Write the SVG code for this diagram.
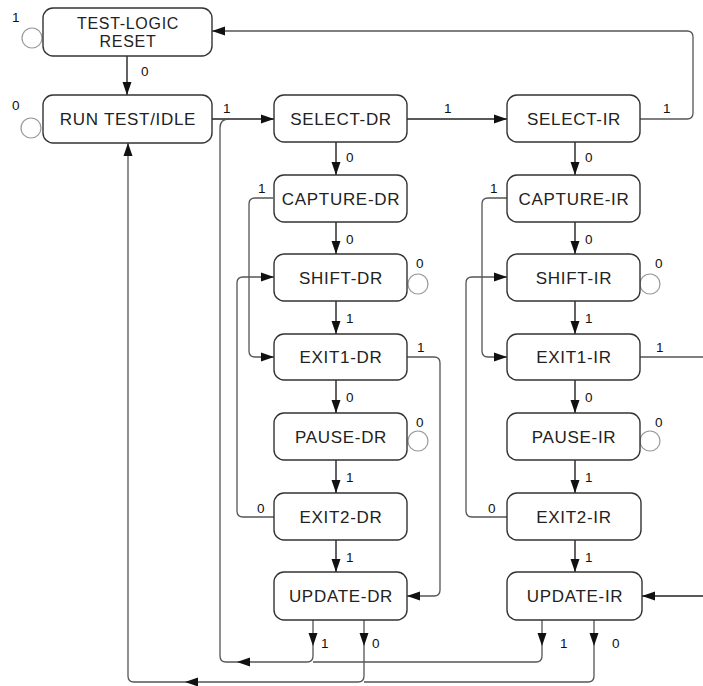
<svg xmlns="http://www.w3.org/2000/svg" width="703" height="686" viewBox="0 0 703 686">
<style>
.box{fill:#fff;stroke:#333;stroke-width:1.4}
.nt{font-family:"Liberation Sans",Arial,sans-serif;font-size:17px;letter-spacing:0.7px;fill:#222;text-anchor:middle}
.nt2{font-size:16px}
.lb{font-family:"Liberation Sans",Arial,sans-serif;font-size:13.5px;fill:#111}
.ln{fill:none;stroke:#222;stroke-width:1.4}
.lg{fill:none;stroke:#555;stroke-width:1.3}
.loop{fill:none;stroke:#999;stroke-width:1.2}
.ah{fill:#111}
</style>
<defs>
<path id="ah" class="ah" d="M0,0 L-13,-4.5 L-13,4.5 Z"/>
</defs>
<g id="connectors">
<path class="ln" d="M127,56 V95"/>
<path class="ln" d="M212,119 H274"/>
<path class="ln" d="M407,119 H507"/>
<path class="lg" d="M640,119 H687 Q693,119 693,113 V37 Q693,31 687,31 H212"/>
<path class="ln" d="M336,142 V175 M336,222 V254 M336,301 V334 M336,380 V413 M336,460 V493 M336,540 V572"/>
<path class="ln" d="M575,142 V175 M575,222 V254 M575,301 V334 M575,380 V413 M575,460 V493 M575,540 V572"/>
<path class="lg" d="M273,198 H255 Q249,198 249,204 V351 Q249,357 255,357 H274"/>
<path class="lg" d="M275,517 H243 Q237,517 237,511 V283 Q237,277 243,277 H274"/>
<path class="lg" d="M407,357 H434 Q440,357 440,363 V590 Q440,596 434,596 H407"/>
<path class="lg" d="M507,198 H488 Q482,198 482,204 V351 Q482,357 488,357 H507"/>
<path class="lg" d="M507,517 H472 Q466,517 466,511 V283 Q466,277 472,277 H507"/>
<path class="lg" d="M640,357 H703"/>
<path class="ln" d="M703,596 H642"/>
<path class="lg" d="M313,620 V656 Q313,662 307,662 H226 Q220,662 220,656 V128 Q220,119 229,119"/>
<path class="lg" d="M542,620 V656 Q542,662 536,662 H313"/>
<path class="lg" d="M364,620 V676 Q364,682 358,682 H134 Q128,682 128,676 V143"/>
<path class="lg" d="M594,620 V676 Q594,682 588,682 H364"/>
<use href="#ah" transform="translate(127,95) rotate(90)"/>
<use href="#ah" transform="translate(274,119)"/>
<use href="#ah" transform="translate(507,119)"/>
<use href="#ah" transform="translate(212,31) rotate(180)"/>
<use href="#ah" transform="translate(336,175) rotate(90)"/>
<use href="#ah" transform="translate(336,254) rotate(90)"/>
<use href="#ah" transform="translate(336,334) rotate(90)"/>
<use href="#ah" transform="translate(336,413) rotate(90)"/>
<use href="#ah" transform="translate(336,493) rotate(90)"/>
<use href="#ah" transform="translate(336,572) rotate(90)"/>
<use href="#ah" transform="translate(575,175) rotate(90)"/>
<use href="#ah" transform="translate(575,254) rotate(90)"/>
<use href="#ah" transform="translate(575,334) rotate(90)"/>
<use href="#ah" transform="translate(575,413) rotate(90)"/>
<use href="#ah" transform="translate(575,493) rotate(90)"/>
<use href="#ah" transform="translate(575,572) rotate(90)"/>
<use href="#ah" transform="translate(274,357)"/>
<use href="#ah" transform="translate(274,277)"/>
<use href="#ah" transform="translate(407,596) rotate(180)"/>
<use href="#ah" transform="translate(507,357)"/>
<use href="#ah" transform="translate(507,277)"/>
<use href="#ah" transform="translate(642,596) rotate(180)"/>
<use href="#ah" transform="translate(313,646) rotate(90)"/>
<use href="#ah" transform="translate(364,646) rotate(90)"/>
<use href="#ah" transform="translate(542,646) rotate(90)"/>
<use href="#ah" transform="translate(594,646) rotate(90)"/>
<use href="#ah" transform="translate(237,662) rotate(180)"/>
<use href="#ah" transform="translate(185,682) rotate(180)"/>
<use href="#ah" transform="translate(128,143) rotate(-90)"/>
<circle class="loop" cx="32" cy="38" r="10"/>
<circle class="loop" cx="31" cy="128" r="10"/>
<circle class="loop" cx="418" cy="284" r="10"/>
<circle class="loop" cx="418" cy="441" r="10"/>
<circle class="loop" cx="650" cy="284" r="10"/>
<circle class="loop" cx="650" cy="441" r="10"/>
<text class="lb" x="12" y="22">1</text>
<text class="lb" x="141" y="76">0</text>
<text class="lb" x="12" y="110">0</text>
<text class="lb" x="223" y="113">1</text>
<text class="lb" x="444" y="113">1</text>
<text class="lb" x="663" y="113">1</text>
<text class="lb" x="258" y="193">1</text>
<text class="lb" x="490" y="193">1</text>
<text class="lb" x="416" y="268">0</text>
<text class="lb" x="655" y="268">0</text>
<text class="lb" x="417" y="352">1</text>
<text class="lb" x="656" y="352">1</text>
<text class="lb" x="416" y="427">0</text>
<text class="lb" x="655" y="427">0</text>
<text class="lb" x="257" y="513">0</text>
<text class="lb" x="488" y="513">0</text>
<text class="lb" x="346" y="162">0</text>
<text class="lb" x="346" y="244">0</text>
<text class="lb" x="346" y="323">1</text>
<text class="lb" x="346" y="402">0</text>
<text class="lb" x="346" y="482">1</text>
<text class="lb" x="346" y="562">1</text>
<text class="lb" x="585" y="162">0</text>
<text class="lb" x="585" y="244">0</text>
<text class="lb" x="585" y="323">1</text>
<text class="lb" x="585" y="402">0</text>
<text class="lb" x="585" y="482">1</text>
<text class="lb" x="585" y="562">1</text>
<text class="lb" x="321" y="648">1</text>
<text class="lb" x="372" y="648">0</text>
<text class="lb" x="560" y="648">1</text>
<text class="lb" x="612" y="648">0</text>
</g>
<g id="tlr"><rect class="box" x="43" y="8" width="169" height="48" rx="10"/><text class="nt nt2" x="128" y="29">TEST-LOGIC</text><text class="nt nt2" x="128" y="47">RESET</text></g>
<g id="rti"><rect class="box" x="43" y="95" width="169" height="48" rx="10"/><text class="nt" x="128" y="125">RUN TEST/IDLE</text></g>
<g id="select-dr"><rect class="box" x="274" y="95" width="133" height="47" rx="10"/><text class="nt" x="341" y="125">SELECT-DR</text></g>
<g id="capture-dr"><rect class="box" x="274" y="175" width="133" height="47" rx="10"/><text class="nt" x="341" y="205">CAPTURE-DR</text></g>
<g id="shift-dr"><rect class="box" x="274" y="254" width="133" height="47" rx="10"/><text class="nt" x="341" y="284">SHIFT-DR</text></g>
<g id="exit1-dr"><rect class="box" x="274" y="334" width="133" height="46" rx="10"/><text class="nt" x="341" y="363">EXIT1-DR</text></g>
<g id="pause-dr"><rect class="box" x="274" y="413" width="133" height="47" rx="10"/><text class="nt" x="341" y="443">PAUSE-DR</text></g>
<g id="exit2-dr"><rect class="box" x="274" y="493" width="133" height="47" rx="10"/><text class="nt" x="341" y="523">EXIT2-DR</text></g>
<g id="update-dr"><rect class="box" x="274" y="572" width="133" height="48" rx="10"/><text class="nt" x="341" y="602">UPDATE-DR</text></g>
<g id="select-ir"><rect class="box" x="507" y="95" width="133" height="47" rx="10"/><text class="nt" x="574" y="125">SELECT-IR</text></g>
<g id="capture-ir"><rect class="box" x="507" y="175" width="133" height="47" rx="10"/><text class="nt" x="574" y="205">CAPTURE-IR</text></g>
<g id="shift-ir"><rect class="box" x="507" y="254" width="133" height="47" rx="10"/><text class="nt" x="574" y="284">SHIFT-IR</text></g>
<g id="exit1-ir"><rect class="box" x="507" y="334" width="133" height="46" rx="10"/><text class="nt" x="574" y="363">EXIT1-IR</text></g>
<g id="pause-ir"><rect class="box" x="507" y="413" width="133" height="47" rx="10"/><text class="nt" x="574" y="443">PAUSE-IR</text></g>
<g id="exit2-ir"><rect class="box" x="507" y="493" width="134" height="47" rx="10"/><text class="nt" x="574" y="523">EXIT2-IR</text></g>
<g id="update-ir"><rect class="box" x="507" y="572" width="135" height="48" rx="10"/><text class="nt" x="575" y="602">UPDATE-IR</text></g>
</svg>
